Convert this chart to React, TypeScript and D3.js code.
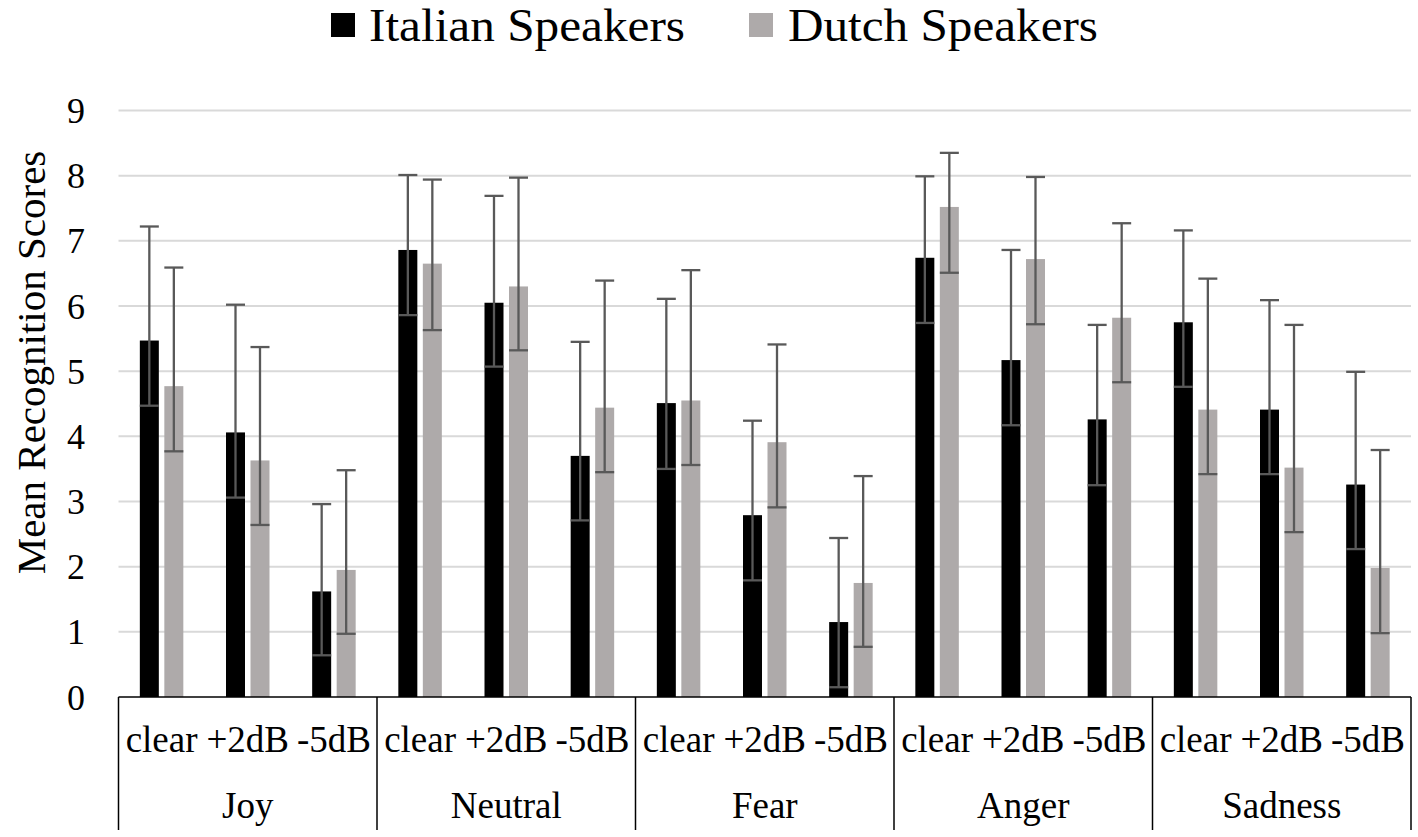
import React from "react";
import * as d3 from "d3";

const emotions = ["Joy", "Neutral", "Fear", "Anger", "Sadness"];
const conditions = ["clear", "+2dB", "-5dB"];
const yTicks = [0, 1, 2, 3, 4, 5, 6, 7, 8, 9];
const seriesNames = ["Italian Speakers", "Dutch Speakers"];

const italianMeans = [5.47, 4.06, 1.62, 6.86, 6.05, 3.7, 4.51, 2.79, 1.15, 6.74, 5.17, 4.26, 5.75, 4.41, 3.26];
const italianHigh = [7.22, 6.02, 2.96, 8.01, 7.69, 5.45, 6.11, 4.24, 2.44, 7.99, 6.86, 5.71, 7.16, 6.09, 4.99];
const italianLow = [4.47, 3.06, 0.64, 5.86, 5.07, 2.71, 3.5, 1.79, 0.15, 5.74, 4.17, 3.25, 4.76, 3.42, 2.27];

const dutchMeans = [4.77, 3.63, 1.95, 6.65, 6.3, 4.44, 4.55, 3.91, 1.75, 7.52, 6.72, 5.82, 4.41, 3.52, 1.98];
const dutchHigh = [6.59, 5.37, 3.48, 7.94, 7.97, 6.39, 6.55, 5.41, 3.39, 8.35, 7.98, 7.27, 6.42, 5.71, 3.79];
const dutchLow = [3.77, 2.64, 0.97, 5.63, 5.32, 3.45, 3.56, 2.91, 0.77, 6.51, 5.72, 4.83, 3.42, 2.53, 0.98];

const colors = ["#000000", "#AEAAAA"];
const FONT = "'Liberation Serif', 'Times New Roman', serif";

export default function App() {
  const W = 1418;
  const H = 837;
  const left = 118.5;
  const right = 1411;
  const yBottom = 697;
  const yTop = 110.5;

  const keys = emotions.flatMap((e) => conditions.map((c) => `${e}|${c}`));
  const x = d3.scaleBand<string>().domain(keys).range([left, right]).padding(0);
  const xg = d3.scaleBand<string>().domain(emotions).range([left, right]).padding(0);
  const y = d3.scaleLinear().domain([0, 9]).range([yBottom, yTop]);

  const barW = 19;
  const offsets = [-21.75, 2.75];
  const series = [
    { means: italianMeans, hi: italianHigh, lo: italianLow },
    { means: dutchMeans, hi: dutchHigh, lo: dutchLow },
  ];

  return (
    <svg
      width={W}
      height={H}
      style={{ position: "fixed", left: 0, top: 0, background: "#fff" }}
      fontFamily={FONT}
    >
      <rect x={0} y={0} width={W} height={H} fill="#fff" />
      {yTicks.slice(1).map((t) => (
        <line key={t} x1={left} x2={right} y1={y(t)} y2={y(t)} stroke="#D9D9D9" strokeWidth={2} />
      ))}
      {yTicks.map((t) => (
        <text key={t} x={85} y={y(t)} dy="0.35em" textAnchor="end" fontSize={36} fill="#000">
          {t}
        </text>
      ))}
      <text
        transform={`translate(45, ${(148 + 577) / 2}) rotate(-90)`}
        textAnchor="middle"
        fontSize={41}
        fill="#000"
      >
        Mean Recognition Scores
      </text>
      {series.map((s, si) =>
        keys.map((k, i) => {
          const c = (x(k) as number) + x.bandwidth() / 2;
          return (
            <rect
              key={`${si}-${k}`}
              x={c + offsets[si]}
              y={y(s.means[i])}
              width={barW}
              height={yBottom - y(s.means[i])}
              fill={colors[si]}
            />
          );
        })
      )}
      {series.map((s, si) =>
        keys.map((k, i) => {
          const c = (x(k) as number) + x.bandwidth() / 2 + offsets[si] + barW / 2;
          return (
            <g key={`e${si}-${k}`} stroke="#595959" strokeWidth={2.3}>
              <line x1={c} x2={c} y1={y(s.hi[i])} y2={y(s.lo[i])} />
              <line x1={c - barW / 2} x2={c + barW / 2} y1={y(s.hi[i])} y2={y(s.hi[i])} />
              <line x1={c - barW / 2} x2={c + barW / 2} y1={y(s.lo[i])} y2={y(s.lo[i])} />
            </g>
          );
        })
      )}
      <line x1={left} x2={right} y1={yBottom} y2={yBottom} stroke="#000" strokeWidth={1.5} />
      {emotions.map((e) => (
        <line
          key={e}
          x1={xg(e) as number}
          x2={xg(e) as number}
          y1={yBottom}
          y2={830}
          stroke="#000"
          strokeWidth={1.5}
        />
      ))}
      <line x1={right} x2={right} y1={yBottom} y2={830} stroke="#000" strokeWidth={1.5} />
      {keys.map((k) => (
        <text
          key={`l${k}`}
          x={(x(k) as number) + x.bandwidth() / 2}
          y={752}
          textAnchor="middle"
          fontSize={37}
          fill="#000"
        >
          {k.split("|")[1]}
        </text>
      ))}
      {emotions.map((e) => (
        <text
          key={`g${e}`}
          x={(xg(e) as number) + xg.bandwidth() / 2}
          y={818}
          textAnchor="middle"
          fontSize={37}
          fill="#000"
        >
          {e}
        </text>
      ))}
      <rect x={331} y={13} width={24} height={24} fill={colors[0]} />
      <text x={369} y={41} fontSize={46} fill="#000" textLength={316} lengthAdjust="spacingAndGlyphs">
        {seriesNames[0]}
      </text>
      <rect x={749} y={13} width={24} height={24} fill={colors[1]} />
      <text x={788} y={41} fontSize={46} fill="#000" textLength={310} lengthAdjust="spacingAndGlyphs">
        {seriesNames[1]}
      </text>
    </svg>
  );
}
